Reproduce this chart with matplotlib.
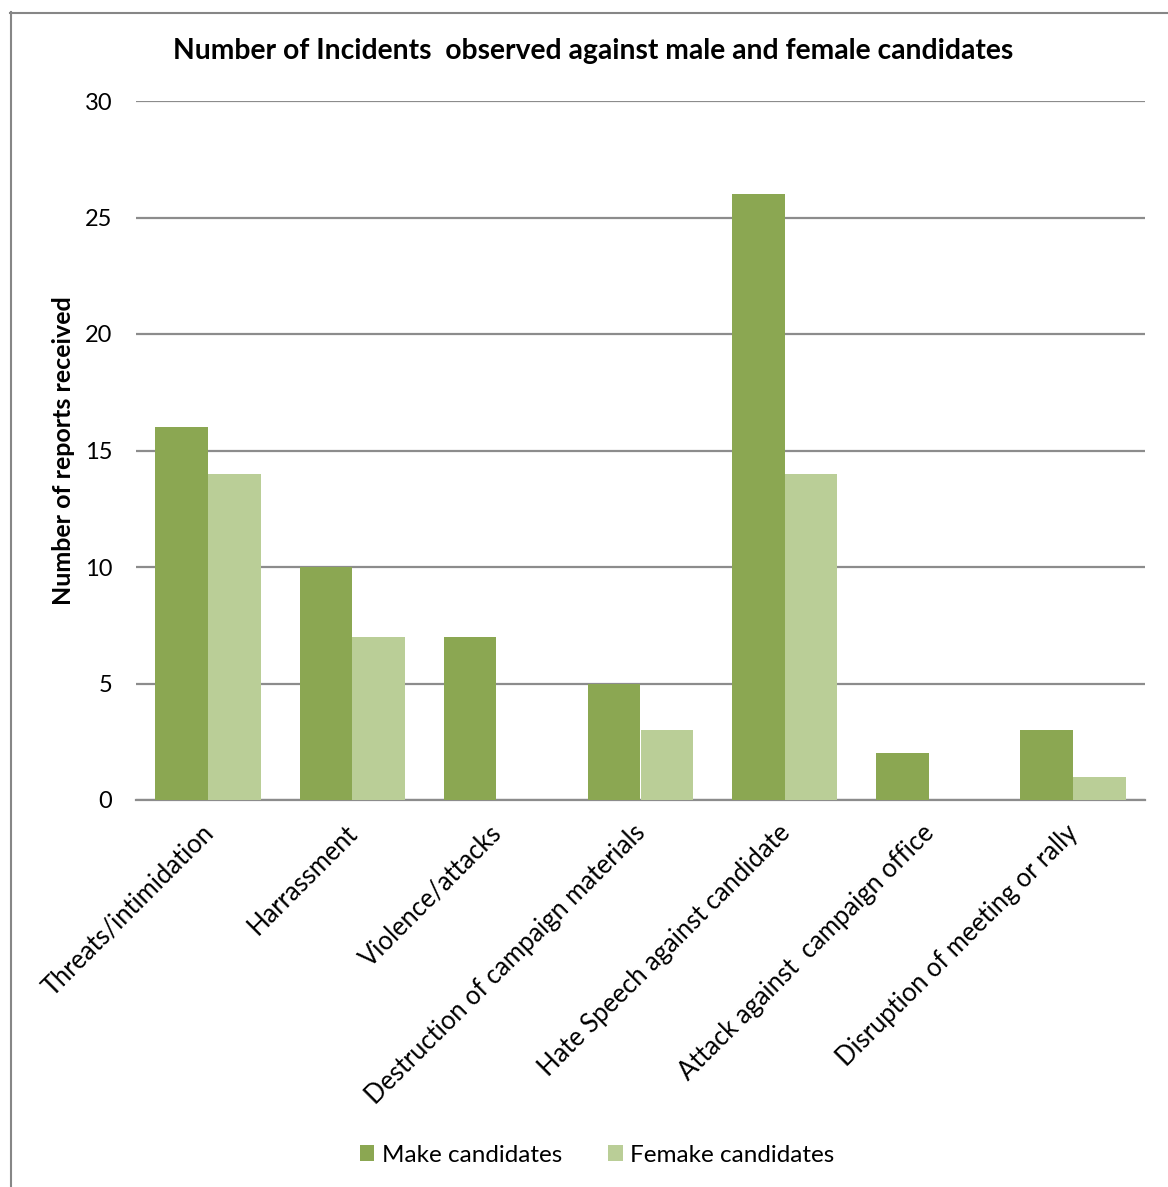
import numpy as np
import matplotlib.pyplot as plt
from matplotlib.lines import Line2D

plt.rcParams['font.family'] = ['Lato', 'DejaVu Sans']

categories = [
    'Threats/intimidation',
    'Harrassment',
    'Violence/attacks',
    'Destruction of campaign materials',
    'Hate Speech against candidate',
    'Attack against  campaign office',
    'Disruption of meeting or rally',
]
male_counts = [16, 10, 7, 5, 26, 2, 3]
female_counts = [14, 7, 0, 3, 14, 0, 1]
series_names = ['Make candidates', 'Femake candidates']
yticks = [0, 5, 10, 15, 20, 25, 30]

male_color = '#8BA752'
female_color = '#BACE97'
grid_color = '#8C8C8C'

W, H = 1168, 1187
fig = plt.figure(figsize=(W / 100, H / 100), dpi=100)
ax = fig.add_axes([136 / W, 1 - 800 / H, (1145 - 136) / W, (800 - 101) / H])

x = np.arange(len(categories))
bw = 0.365
ax.bar(x - bw / 2, male_counts, bw, color=male_color, label=series_names[0], zorder=3)
ax.bar(x + bw / 2, female_counts, bw, color=female_color, label=series_names[1], zorder=3)

ax.set_xlim(-0.5, len(categories) - 0.5)
ax.set_ylim(0, 30)
ax.set_yticks(yticks)
ax.yaxis.grid(True, color=grid_color, linewidth=1.6, zorder=0)
ax.tick_params(axis='y', length=0, pad=17, labelsize=17)
ax.tick_params(axis='x', length=0)
for side in ['left', 'right', 'top']:
    ax.spines[side].set_visible(False)
ax.spines['bottom'].set_color(grid_color)
ax.spines['bottom'].set_linewidth(1.6)

ax.set_xticks(x)
ax.set_xticklabels([])
for xi, label in zip(x, categories):
    ax.annotate(label, xy=(xi, 0), xycoords=('data', 'axes fraction'),
                xytext=(1, -21), textcoords='offset points',
                rotation=45, rotation_mode='anchor', ha='right', va='center',
                fontsize=18.4)

ax.set_ylabel('Number of reports received', fontsize=18, fontweight='bold', labelpad=7)
fig.text(0.508, 1 - 51 / H, 'Number of Incidents  observed against male and female candidates',
         ha='center', va='center', fontsize=20.3, fontweight='bold')

fig.legend(loc='center', bbox_to_anchor=(0.511, 1 - 1155 / H), ncol=2, frameon=False,
           fontsize=17.5, handlelength=0.6, handleheight=0.6, handletextpad=0.3,
           columnspacing=1.9)

# outer chart frame
fig.add_artist(Line2D([10.5 / W, 10.5 / W], [0, 1 - 12 / H], color='#868686', linewidth=1.5))
fig.add_artist(Line2D([10 / W, 1], [1 - 12.5 / H, 1 - 12.5 / H], color='#868686', linewidth=1.5))

fig.savefig('out.png', dpi=100, facecolor='white')
